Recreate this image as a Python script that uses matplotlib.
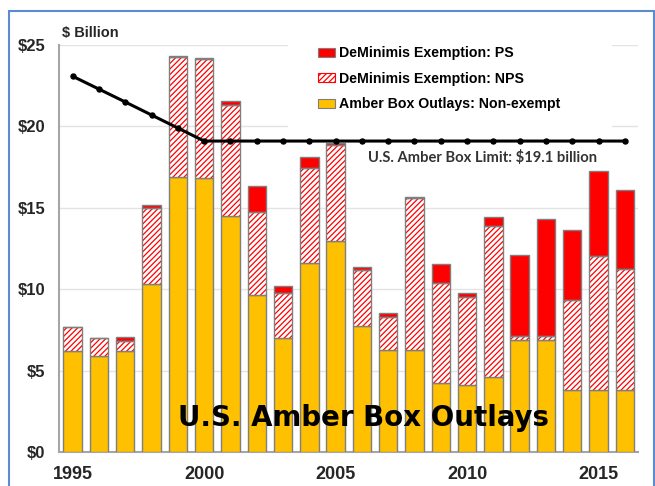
import matplotlib
matplotlib.use("Agg")
import matplotlib.pyplot as plt
from matplotlib.patches import Patch, Rectangle
import numpy as np

years = list(range(1995, 2017))
non_exempt = [6.2, 5.9, 6.2, 10.35, 16.9, 16.8, 14.5, 9.65, 7.0, 11.6, 12.95,
              7.75, 6.25, 6.25, 4.25, 4.1, 4.6, 6.9, 6.9, 3.8, 3.8, 3.8]
nps = [1.45, 1.1, 0.6, 4.63, 7.35, 7.35, 6.8, 5.08, 2.79, 5.84, 5.92,
       3.44, 2.03, 9.34, 6.12, 5.45, 9.31, 0.23, 0.23, 5.54, 8.25, 7.45]
ps = [0.05, 0.03, 0.25, 0.17, 0.05, 0.05, 0.25, 1.62, 0.43, 0.69, 0.08,
      0.2, 0.28, 0.1, 1.18, 0.24, 0.51, 4.97, 7.17, 4.3, 5.18, 4.83]
limit = [23.08, 22.29, 21.5, 20.7, 19.9] + [19.1] * 17
yticks = [0, 5, 10, 15, 20, 25]
xticks = [1995, 2000, 2005, 2010, 2015]

plt.rcParams['font.family'] = ['Liberation Sans', 'DejaVu Sans']
plt.rcParams['hatch.linewidth'] = 0.9

W, H = 655, 486
fig = plt.figure(figsize=(W / 100, H / 100), dpi=100)
ax = fig.add_axes([59 / W, 34 / H, (638 - 59) / W, (452 - 45) / H])

x = np.array(years)
ne = np.array(non_exempt)
nv = np.array(nps)
pv = np.array(ps)
bw = 0.70
edge = '#7F7F7F'
yellow = '#FFC000'
red = '#FF0000'

ax.bar(x, ne, width=bw, color=yellow, edgecolor=edge, linewidth=1.0, zorder=3)
ax.bar(x, nv, bottom=ne, width=bw, facecolor='white', edgecolor=red,
       hatch='//////', linewidth=0, zorder=3)
ax.bar(x, nv, bottom=ne, width=bw, fill=False, edgecolor=edge, linewidth=1.0, zorder=3.5)
ax.bar(x, pv, bottom=ne + nv, width=bw, color=red, edgecolor=edge, linewidth=1.0, zorder=3)

ax.plot(x, limit, color='black', lw=2.2, marker='o', markersize=3.6, zorder=5)

ax.set_xlim(1994.48, 2016.5)
ax.set_ylim(0, 25)
ax.set_yticks(yticks)
ax.set_yticklabels([f"${v}" for v in yticks], fontsize=12, fontweight='bold', color='#262626')
ax.set_xticks(xticks)
ax.set_xticklabels([str(v) for v in xticks], fontsize=13, fontweight='bold', color='#262626')
ax.tick_params(length=0)
ax.tick_params(axis='y', pad=10)
ax.tick_params(axis='x', pad=10)
ax.grid(axis='y', color='#E3E3E3', lw=1.0, zorder=0)
ax.set_axisbelow(True)
for s in ['top', 'right']:
    ax.spines[s].set_visible(False)
for s in ['left', 'bottom']:
    ax.spines[s].set_color('#A6A6A6')
    ax.spines[s].set_linewidth(1.5)

# white box behind legend
ax.add_patch(Rectangle((2003.2, 19.6), 12.3, 6.0, transform=ax.transData,
                       facecolor='white', edgecolor='none', zorder=1, clip_on=False))

handles = [Patch(facecolor=red, edgecolor=edge, lw=0.8),
           Patch(facecolor='white', edgecolor=red, hatch='//////', lw=0.8),
           Patch(facecolor=yellow, edgecolor=edge, lw=0.8)]
labels = ['DeMinimis Exemption: PS', 'DeMinimis Exemption: NPS',
          'Amber Box Outlays: Non-exempt']
fig.legend(handles, labels, loc='upper left', bbox_to_anchor=(318 / W, 1 - 46 / H),
           bbox_transform=fig.transFigure, frameon=False, borderpad=0, borderaxespad=0,
           handlelength=1.2, handleheight=0.6, handletextpad=0.25, labelspacing=0.82,
           prop={'family': 'Liberation Sans', 'weight': 'bold', 'size': 10.2})

ax.text(2010.6, 18.07, 'U.S. Amber Box Limit: $19.1 billion', ha='center', va='center',
        fontsize=10.65, family='Lato', fontweight='bold', color='#333333', zorder=6)
ax.text(2006.04, 2.1, 'U.S. Amber Box Outlays', ha='center', va='center',
        fontsize=19.9, family='DejaVu Sans', fontweight='bold', color='black', zorder=6)
fig.text(62 / W, 1 - 33 / H, '$ Billion', ha='left', va='center', fontsize=10.5,
         fontweight='bold', color='#262626')

# blue frame
fig.patches.append(Rectangle((8.5 / W, -0.05), (653.5 - 8.5) / W, 1 - 11 / H + 0.05,
                             transform=fig.transFigure, fill=False, edgecolor='#5B8BD0',
                             lw=1.5, zorder=0))

fig.savefig('out.png', dpi=100)
